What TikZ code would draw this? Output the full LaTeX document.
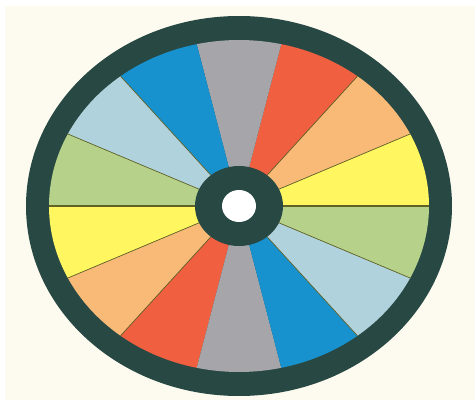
\documentclass[tikz,border=0pt]{standalone}
\begin{document}
\begin{tikzpicture}[x=1pt,y=1pt,
  sepline/.style={draw=lineolive,line width=0.7pt},
  midline/.style={draw=lineolive,line width=2.2pt}]
\definecolor{cgray}{RGB}{166,166,170}
\definecolor{cred}{RGB}{240,96,64}
\definecolor{corange}{RGB}{248,186,118}
\definecolor{cyellow}{RGB}{255,246,96}
\definecolor{cgreen}{RGB}{182,210,138}
\definecolor{clblue}{RGB}{176,210,220}
\definecolor{cblue}{RGB}{24,146,206}
\definecolor{ring}{RGB}{40,72,68}
\definecolor{cream}{RGB}{253,251,240}
\definecolor{lineolive}{RGB}{96,98,40}
\useasboundingbox (0,0) rectangle (475,400);
\fill[white] (0,0) rectangle (475,400);
\fill[cream] (5,0) rectangle (475,394);
\coordinate (C) at (239,194);
% outer dark ring
\fill[ring] (C) ellipse [x radius=213, y radius=190];
% sectors
\foreach \col [count=\i from 0] in {cyellow,corange,cred,cgray,cblue,clblue,cgreen,cyellow,corange,cred,cgray,cblue,clblue,cgreen}{
  \pgfmathsetmacro{\a}{\i*360/14}
  \pgfmathsetmacro{\b}{(\i+1)*360/14}
  \fill[\col] (C) -- ([shift={(C)}]\a:190 and 166) arc[start angle=\a, end angle=\b, x radius=190, y radius=166] -- cycle;
}
% separating lines
\foreach \k in {1,2,5,6,8,9,12,13}{
  \pgfmathsetmacro{\a}{\k*360/14}
  \draw[sepline] (C) -- ([shift={(C)}]\a:190 and 166);
}
\draw[midline] ([shift={(C)}]180:190 and 166) -- ([shift={(C)}]0:190 and 166);
% hub
\fill[ring] (C) ellipse [x radius=44, y radius=40];
\fill[white] (C) ellipse [x radius=17, y radius=16];
\end{tikzpicture}
\end{document}
